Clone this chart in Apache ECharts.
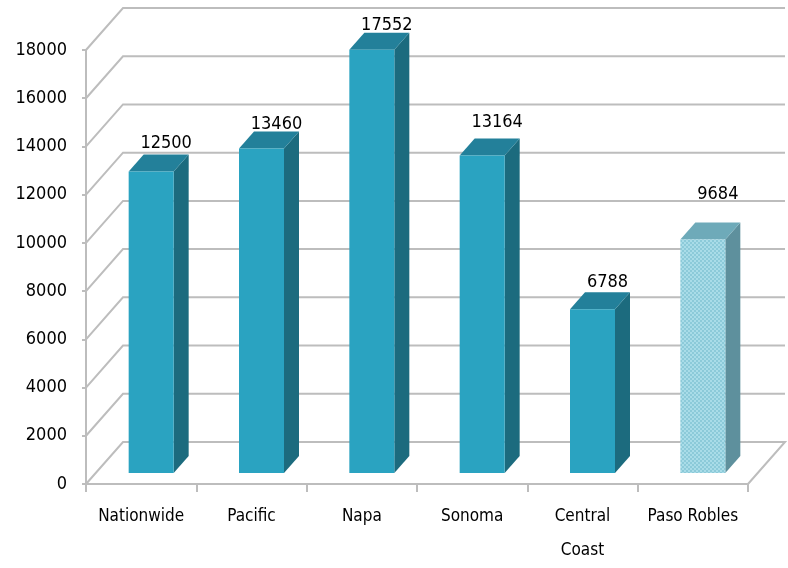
<!DOCTYPE html>
<html>
<head>
<meta charset="utf-8">
<script src="https://cdn.jsdelivr.net/npm/echarts@6/dist/echarts.min.js"></script>
<style>
  html, body { margin: 0; padding: 0; background: #fff; }
  #chart { width: 788px; height: 568px; }
</style>
</head>
<body>
<div id="chart"></div>
<script>
const regions = ['Nationwide', 'Pacific', 'Napa', 'Sonoma', 'Central\nCoast', 'Paso Robles']
const costs = [12500, 13460, 17552, 13164, 6788, 9684]
const yTicks = [0, 2000, 4000, 6000, 8000, 10000, 12000, 14000, 16000, 18000]
// how far each value label floats above its bar (px), as placed in the original
const labelLift = [11.5, 7, 7.5, 16, 10, 28.5]

const FONT = '"DejaVu Sans Condensed", "DejaVu Sans", sans-serif'
const GRID_COLOR = '#bdbdbd'
// depth of the back wall and of each bar
const WALL = { dx: 37, dy: 42 }
const BAR = { w: 45, dx: 15, dy: 17, shiftX: 10, shiftY: 11 }

function makePattern() {
  const c = document.createElement('canvas')
  c.width = 4; c.height = 4
  const g = c.getContext('2d')
  g.fillStyle = '#a9dce8'
  g.fillRect(0, 0, 4, 4)
  g.fillStyle = '#8ccad9'
  g.fillRect(0, 0, 2, 2)
  g.fillRect(2, 2, 2, 2)
  return c
}
const pattern = { image: makePattern(), repeat: 'repeat' }

const normal = { front: '#2aa3c1', side: '#1c6b7e', top: '#23809a' }
const light = { front: pattern, side: '#5e909d', top: '#6eaab9' }

const chart = echarts.init(document.getElementById('chart'))

chart.setOption({
  animation: false,
  grid: { left: 86, right: 40, top: 50, bottom: 80, containLabel: false },
  xAxis: {
    type: 'category',
    data: regions,
    axisLine: { lineStyle: { color: GRID_COLOR, width: 2 } },
    axisTick: { show: true, interval: 0, length: 8, lineStyle: { color: GRID_COLOR, width: 2 } },
    axisLabel: {
      interval: 0, margin: 16, color: '#000',
      fontFamily: FONT, fontSize: 17, lineHeight: 34
    }
  },
  yAxis: {
    type: 'value',
    min: 0, max: 18000, interval: 2000,
    axisLine: { show: true, lineStyle: { color: GRID_COLOR, width: 2 } },
    axisTick: { show: true, length: 4, lineStyle: { color: GRID_COLOR, width: 2 } },
    splitLine: { show: false },
    axisLabel: {
      margin: 19, color: '#000', fontFamily: FONT, fontSize: 18,
      formatter: v => String(v)
    }
  },
  series: [
    {
      type: 'custom',
      z: 1,
      silent: true,
      data: yTicks.map(v => [0, v]),
      renderItem(params, api) {
        const y = api.coord([0, api.value(1)])[1]
        const left = params.coordSys.x
        const right = left + params.coordSys.width
        const pts = [[left, y], [left + WALL.dx, y - WALL.dy], [right + WALL.dx, y - WALL.dy]]
        if (api.value(1) === 0) pts.push([right, y])
        return {
          type: 'polyline',
          shape: { points: pts },
          style: { stroke: GRID_COLOR, lineWidth: 2, fill: null }
        }
      }
    },
    {
      type: 'custom',
      z: 3,
      data: costs.map((v, i) => [i, v]),
      renderItem(params, api) {
        const i = api.value(0)
        const v = api.value(1)
        const base = api.coord([i, 0])
        const topPt = api.coord([i, v])
        const cx = base[0] + BAR.shiftX
        const bottom = base[1] - BAR.shiftY
        const top = topPt[1] - BAR.shiftY
        const l = cx - BAR.w / 2
        const r = cx + BAR.w / 2
        const c = i === costs.length - 1 ? light : normal
        return {
          type: 'group',
          children: [
            {
              type: 'polygon',
              shape: { points: [[r, top], [r + BAR.dx, top - BAR.dy], [r + BAR.dx, bottom - BAR.dy], [r, bottom]] },
              style: { fill: c.side }
            },
            {
              type: 'polygon',
              shape: { points: [[l, top], [l + BAR.dx, top - BAR.dy], [r + BAR.dx, top - BAR.dy], [r, top]] },
              style: { fill: c.top }
            },
            {
              type: 'rect',
              shape: { x: l, y: top, width: BAR.w, height: bottom - top },
              style: { fill: c.front }
            },
            {
              type: 'text',
              style: {
                text: String(v),
                x: cx + BAR.dx, y: top - BAR.dy - labelLift[i],
                align: 'center', verticalAlign: 'middle',
                fontFamily: FONT, fontSize: 18, fill: '#000'
              }
            }
          ]
        }
      }
    }
  ]
})
</script>
</body>
</html>
